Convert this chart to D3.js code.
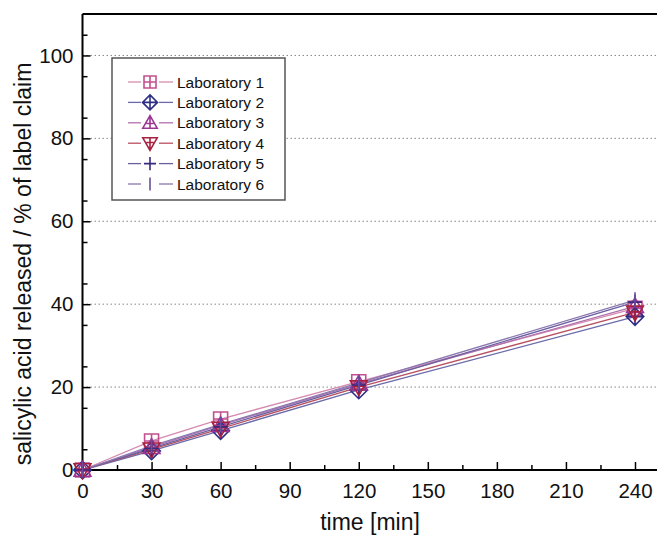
<!DOCTYPE html>
<html>
<head>
<meta charset="utf-8">
<script src="https://cdn.jsdelivr.net/npm/d3@7"></script>
<style>
  body { margin: 0; background: #fff; }
  svg text { font-family: "Liberation Sans", Arial, sans-serif; }
</style>
</head>
<body>
<div class="fig"></div>
<script>
const w = 657;
const h = 536;

// data
const times = [0, 30, 60, 120, 240];
const labNames = ["Laboratory 1", "Laboratory 2", "Laboratory 3", "Laboratory 4", "Laboratory 5", "Laboratory 6"];
const lab1 = [0, 7.0, 12.3, 21.3, 39.0];
const lab2 = [0, 4.6, 9.5, 19.3, 37.0];
const lab3 = [0, 5.5, 10.8, 20.8, 39.5];
const lab4 = [0, 5.0, 10.0, 20.0, 38.0];
const lab5 = [0, 5.2, 10.4, 20.5, 40.5];
const lab6 = [0, 5.8, 11.0, 21.0, 41.0];
const xTicks = [0, 30, 60, 90, 120, 150, 180, 210, 240];
const yTicks = [0, 20, 40, 60, 80, 100];

const series = [lab1, lab2, lab3, lab4, lab5, lab6];
const colors = ["#c2508e", "#2e2e86", "#9c3594", "#a8203e", "#3a2a7e", "#6d4e9e"];
const lineColors = ["#d58ab0", "#6a6aa8", "#b070ae", "#b85060", "#6a60a0", "#8a78b0"];
const shapes = ["sqplus", "diamond", "tri", "tridown", "plus", "bar"];

const margin = {left: 82.5, top: 14, bottom: 470, right: 660};

let svg = d3.select(".fig").append("svg")
  .attr("width", w).attr("height", h);

let x = d3.scaleLinear().domain([0, 240]).range([margin.left, 635]);
let y = d3.scaleLinear().domain([0, 110]).range([margin.bottom, margin.top]);

// grid
svg.append("g").selectAll("line")
  .data(yTicks.filter(d => d > 0))
  .enter().append("line")
  .attr("x1", margin.left).attr("x2", w)
  .attr("y1", d => y(d)).attr("y2", d => y(d))
  .attr("stroke", "#888").attr("stroke-width", 1)
  .attr("stroke-dasharray", "1.5,2.5");

// frame (top line)
svg.append("line")
  .attr("x1", margin.left).attr("x2", w)
  .attr("y1", margin.top).attr("y2", margin.top)
  .attr("stroke", "#000").attr("stroke-width", 2);

// minor ticks
svg.append("g")
  .attr("transform", "translate(0," + margin.bottom + ")")
  .call(d3.axisBottom(x).tickValues(d3.range(15, 241, 30)).tickSize(-5).tickFormat(""))
  .call(g => g.select(".domain").remove())
  .selectAll("line").attr("stroke-width", 1.5);
svg.append("g")
  .attr("transform", "translate(" + margin.left + ",0)")
  .call(d3.axisLeft(y).tickValues(d3.range(5, 110, 10)).tickSize(-5).tickFormat(""))
  .call(g => g.select(".domain").remove())
  .selectAll("line").attr("stroke-width", 1.5);

// main axes
let xAxis = svg.append("g")
  .attr("transform", "translate(0," + margin.bottom + ")")
  .call(d3.axisBottom(x).tickValues(xTicks).tickSizeInner(-8).tickSizeOuter(0).tickPadding(13));
xAxis.select(".domain").attr("d", "M" + margin.left + ",0H" + w).attr("stroke-width", 2);
xAxis.selectAll("line").attr("stroke-width", 1.5);
xAxis.selectAll("text").attr("font-size", 20.5).attr("fill", "#111")
  .style("font-family", "'Liberation Sans', Arial, sans-serif");

let yAxis = svg.append("g")
  .attr("transform", "translate(" + margin.left + ",0)")
  .call(d3.axisLeft(y).tickValues(yTicks).tickSizeInner(-8).tickSizeOuter(0).tickPadding(9));
yAxis.select(".domain").attr("d", "M0," + margin.bottom + "V" + margin.top).attr("stroke-width", 2);
yAxis.selectAll("line").attr("stroke-width", 1.5);
yAxis.selectAll("text").attr("font-size", 20.5).attr("fill", "#111")
  .style("font-family", "'Liberation Sans', Arial, sans-serif");

// axis titles
svg.append("text")
  .attr("x", 370).attr("y", 530)
  .attr("text-anchor", "middle").attr("font-size", 23).attr("fill", "#111")
  .text("time [min]");
svg.append("text")
  .attr("transform", "translate(31," + 264 + ") rotate(-90)")
  .attr("text-anchor", "middle").attr("font-size", 23).attr("fill", "#111")
  .text("salicylic acid released / % of label claim");

// marker shapes
function marker(g, shape, color, r) {
  let p = d3.path();
  if (shape == "sqplus") {
    p.rect(-r, -r, 2 * r, 2 * r);
    p.moveTo(-r, 0); p.lineTo(r, 0);
    p.moveTo(0, -r); p.lineTo(0, r);
  } else if (shape == "diamond") {
    let d = r * 1.25;
    p.moveTo(0, -d); p.lineTo(d, 0); p.lineTo(0, d); p.lineTo(-d, 0); p.closePath();
    p.moveTo(-d, 0); p.lineTo(d, 0);
    p.moveTo(0, -d); p.lineTo(0, d);
  } else if (shape == "tri") {
    let d = r * 1.2;
    p.moveTo(0, -d); p.lineTo(d, d * 0.75); p.lineTo(-d, d * 0.75); p.closePath();
    p.moveTo(0, -d); p.lineTo(0, d * 0.75);
    p.moveTo(-d * 0.5, d * 0.1); p.lineTo(d * 0.5, d * 0.1);
  } else if (shape == "tridown") {
    let d = r * 1.2;
    p.moveTo(0, d); p.lineTo(d, -d * 0.75); p.lineTo(-d, -d * 0.75); p.closePath();
    p.moveTo(0, d); p.lineTo(0, -d * 0.75);
    p.moveTo(-d * 0.5, -d * 0.1); p.lineTo(d * 0.5, -d * 0.1);
  } else if (shape == "plus") {
    p.moveTo(-r, 0); p.lineTo(r, 0);
    p.moveTo(0, -r * 1.1); p.lineTo(0, r * 1.1);
  } else {
    p.moveTo(0, -r * 1.1); p.lineTo(0, r * 1.1);
  }
  g.append("path").attr("d", p.toString())
    .attr("fill", "none").attr("stroke", color).attr("stroke-width", 1.6);
}

let line = d3.line().x((d, i) => x(times[i])).y(d => y(d));

// lines first
series.forEach((s, k) => {
  svg.append("path").datum(s)
    .attr("d", line)
    .attr("fill", "none")
    .attr("stroke", lineColors[k])
    .attr("stroke-width", 1.3);
});
// then markers
series.forEach((s, k) => {
  s.forEach((v, i) => {
    let g = svg.append("g").attr("transform", "translate(" + x(times[i]) + "," + y(v) + ")");
    marker(g, shapes[k], colors[k], 7);
  });
});

// legend
let leg = svg.append("g");
leg.append("rect")
  .attr("x", 112).attr("y", 58).attr("width", 173).attr("height", 142)
  .attr("fill", "#fff").attr("stroke", "#555").attr("stroke-width", 1.5);
labNames.forEach((name, k) => {
  let ly = 82 + k * 20.4;
  let row = leg.append("g").attr("transform", "translate(0," + ly + ")");
  row.append("line").attr("x1", 128).attr("x2", 141).attr("y1", 0).attr("y2", 0)
    .attr("stroke", lineColors[k]).attr("stroke-width", 1.3);
  row.append("line").attr("x1", 159).attr("x2", 173).attr("y1", 0).attr("y2", 0)
    .attr("stroke", lineColors[k]).attr("stroke-width", 1.3);
  let mg = row.append("g").attr("transform", "translate(150,0)");
  marker(mg, shapes[k], colors[k], 6);
  row.append("text").attr("x", 177).attr("y", 5.5)
    .attr("font-size", 15.5).attr("fill", "#111")
    .text(name);
});
</script>
</body>
</html>
